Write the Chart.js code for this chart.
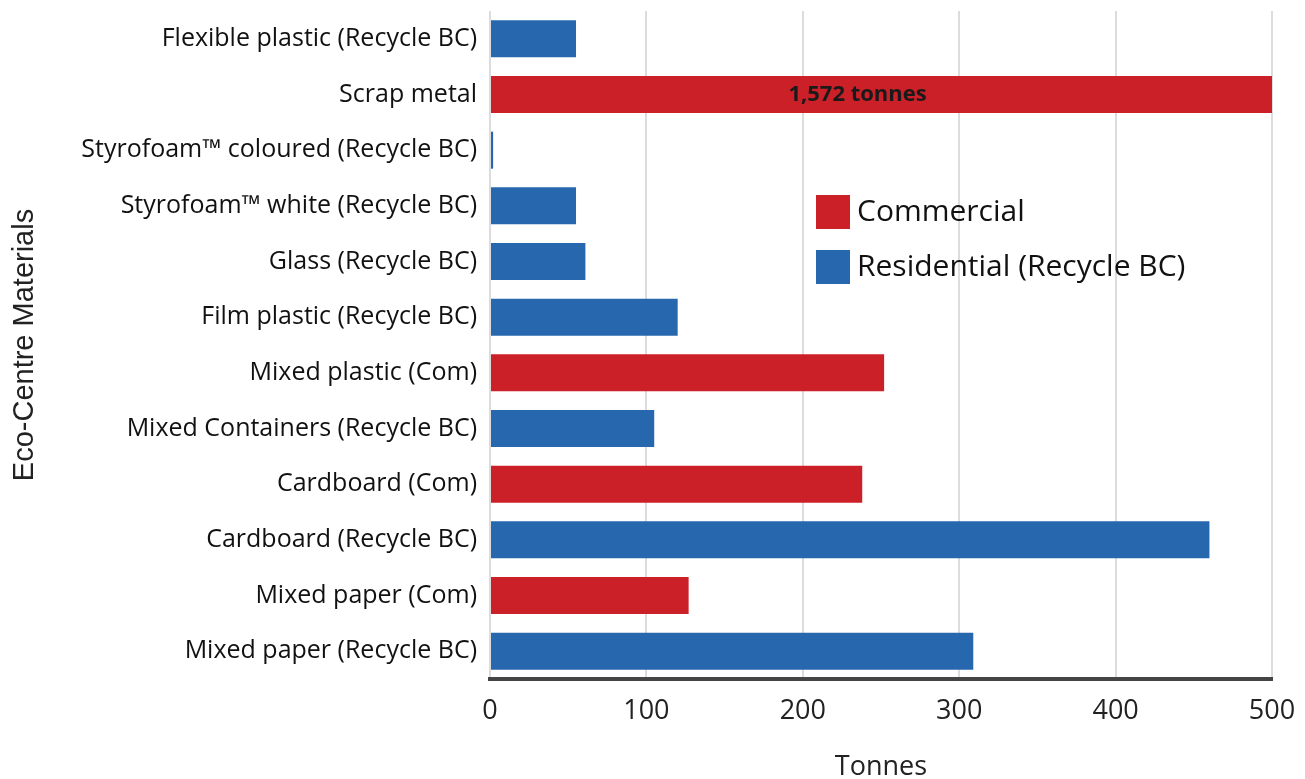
<!DOCTYPE html>
<html>
<head>
<meta charset="utf-8">
<script src="https://cdn.jsdelivr.net/npm/chart.js@4/dist/chart.umd.min.js"></script>
<style>
html,body{margin:0;padding:0;background:#fff;}
#wrap{width:1305px;height:779px;position:relative;}
</style>
</head>
<body>
<div id="wrap"><canvas id="c" width="1305" height="779"></canvas></div>
<script>
const categories = [
  "Flexible plastic (Recycle BC)",
  "Scrap metal",
  "Styrofoam\u2122 coloured (Recycle BC)",
  "Styrofoam\u2122 white (Recycle BC)",
  "Glass (Recycle BC)",
  "Film plastic (Recycle BC)",
  "Mixed plastic (Com)",
  "Mixed Containers (Recycle BC)",
  "Cardboard (Com)",
  "Cardboard (Recycle BC)",
  "Mixed paper (Com)",
  "Mixed paper (Recycle BC)"
];
const commercial = [null, 1572, null, null, null, null, 252, null, 238, null, 127, null];
const residential = [55, null, 2, 55, 61, 120, null, 105, null, 460, null, 309];
const xTicks = [0, 100, 200, 300, 400, 500];
const seriesNames = ["Commercial", "Residential (Recycle BC)"];
const overflowLabel = "1,572 tonnes";
const overflowLabelAt = 235;

const RED = '#cb2027', BLUE = '#2767ae';
const FONT = "'Open Sans', Lato, sans-serif";
const TITLE_FONT = "'Liberation Sans', Arial, sans-serif";

const legendPlugin = {
  id: 'insideLegend',
  afterDraw(chart) {
    const ctx = chart.ctx;
    const ds = chart.data.datasets;
    ctx.save();
    ds.forEach((d, i) => {
      const x0 = 816, y0 = 195 + i * 55;
      ctx.fillStyle = d.backgroundColor;
      ctx.fillRect(x0, y0, 34, 34);
      ctx.fillStyle = '#111';
      ctx.font = "30px " + FONT;
      ctx.textBaseline = 'middle';
      ctx.textAlign = 'left';
      ctx.fillText(d.label, x0 + 41, y0 + 17);
    });
    const meta = chart.getDatasetMeta(0);
    const idx = commercial.findIndex(v => v !== null && v > xTicks[xTicks.length-1]);
    if (idx >= 0) {
      const bar = meta.data[idx];
      ctx.fillStyle = '#1a1a1a';
      ctx.font = "bold 22px " + FONT;
      ctx.textAlign = 'center';
      ctx.textBaseline = 'middle';
      ctx.fillText(overflowLabel, chart.scales.x.getPixelForValue(overflowLabelAt), bar.y);
    }
    ctx.restore();
  }
};

new Chart(document.getElementById('c'), {
  type: 'bar',
  data: {
    labels: categories,
    datasets: [
      { label: seriesNames[0], data: commercial, backgroundColor: RED, barPercentage: 0.665, categoryPercentage: 1 },
      { label: seriesNames[1], data: residential, backgroundColor: BLUE, barPercentage: 0.665, categoryPercentage: 1 }
    ]
  },
  options: {
    indexAxis: 'y',
    responsive: false,
    animation: false,
    layout: { padding: { top: 11, right: 33, left: 0, bottom: 0 } },
    plugins: { legend: { display: false }, tooltip: { enabled: false } },
    scales: {
      x: {
        stacked: true,
        min: 0, max: 500,
        afterBuildTicks(s) { s.ticks = xTicks.map(v => ({ value: v })); },
        afterFit(s) { s.height = 100; s.paddingLeft = 0; s.paddingRight = 0; },
        grid: { color: '#dcdcdc', lineWidth: 2, drawTicks: false },
        border: { color: '#444', width: 4 },
        ticks: { color: '#222', font: { family: FONT, size: 27 }, padding: 16 },
        title: { display: true, text: 'Tonnes', color: '#222', font: { family: FONT, size: 27 }, padding: { top: 12, bottom: -5 } }
      },
      y: {
        stacked: true,
        afterFit(s) { s.width = 490; s.paddingTop = 0; s.paddingBottom = 0; },
        grid: { display: false, drawTicks: false },
        border: { display: false },
        ticks: { color: '#111', font: { family: FONT, size: 25 }, padding: 13 },
        title: { display: true, text: 'Eco-Centre Materials', color: '#222', font: { family: TITLE_FONT, size: 29 }, padding: { top: 8, bottom: 0 } }
      }
    }
  },
  plugins: [legendPlugin]
});
</script>
</body>
</html>
